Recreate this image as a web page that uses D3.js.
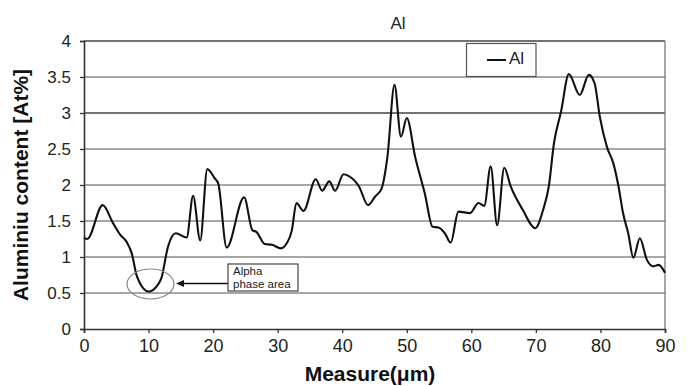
<!DOCTYPE html>
<html><head><meta charset="utf-8">
<script src="https://cdn.jsdelivr.net/npm/d3@7"></script>
<style>
html,body{margin:0;padding:0;background:#fff;}
svg{display:block;font-family:"Liberation Sans",Arial,sans-serif;}
</style></head>
<body><svg id="c" width="691" height="386"></svg>
<script>
const measure = [0,0.5,2.9,4.5,5.6,6.6,7.4,8.2,10,11.4,12,13,14.2,15.9,16.9,18,19.1,20.2,20.8,22.1,24.8,26.1,26.7,28,29.1,30.5,31.4,32.2,32.9,34,35.9,36.9,38,38.9,40.2,40.9,42.6,44,45.1,46.1,47,48.1,49.1,50,51.3,52.8,54,54.9,55.9,56.8,58,59.8,61.1,62,63,64,65.1,66.1,68,69.9,71.1,72,72.8,73.9,75.1,76.8,78.2,79.1,79.9,81,82,82.8,83.5,84.3,85.1,86.1,87.2,88.2,89,90];
const alContent = [1.27,1.25,1.72,1.47,1.31,1.21,1.05,0.73,0.52,0.61,0.71,1.14,1.33,1.27,1.85,1.23,2.22,2.1,2.02,1.13,1.83,1.37,1.35,1.18,1.17,1.12,1.19,1.37,1.75,1.64,2.08,1.92,2.05,1.92,2.15,2.13,1.98,1.72,1.84,1.95,2.39,3.39,2.67,2.93,2.39,1.88,1.42,1.41,1.33,1.2,1.63,1.61,1.75,1.71,2.26,1.44,2.24,1.98,1.65,1.4,1.65,1.98,2.58,3.02,3.54,3.25,3.53,3.41,2.95,2.53,2.3,1.98,1.61,1.33,0.99,1.26,0.96,0.87,0.89,0.78];
const xTicks = [0,10,20,30,40,50,60,70,80,90];
const yTicks = [0,0.5,1,1.5,2,2.5,3,3.5,4];
const yTickLabels = ["0","0.5","1","1.5","2","2.5","3","3.5","4"];
const seriesName = "Al";
const chartTitle = "Al";
const xTitle = "Measure(\u03bcm)";
const yTitle = "Aluminiu content [At%]";
const noteLines = ["Alpha","phase area"];

const svg = d3.select("#c");
const L = 84, R = 665, T = 41, B = 329;
const x = d3.scaleLinear().domain([0,90]).range([L,R]);
const y = d3.scaleLinear().domain([0,4]).range([B,T]);

// gridlines
svg.append("g").selectAll("line").data(yTicks.filter(d=>d>0)).join("line")
  .attr("x1",L).attr("x2",R).attr("y1",d=>y(d)).attr("y2",d=>y(d))
  .attr("stroke",d=>(d===3||d===4)?"#444":"#8a8a8a").attr("stroke-width",d=>(d===4)?1.6:1.3);
// right border
svg.append("line").attr("x1",R).attr("x2",R).attr("y1",T).attr("y2",B).attr("stroke","#777").attr("stroke-width",1.3);

// axes
const yAxis = d3.axisLeft(y).tickValues(yTicks).tickFormat((d,i)=>yTickLabels[i]).tickSize(4).tickPadding(9);
const gy = svg.append("g").attr("transform",`translate(${L},0)`).call(yAxis);
gy.select(".domain").attr("stroke","#333").attr("stroke-width",1.6);
gy.selectAll(".tick line").attr("stroke","#333").attr("stroke-width",1.3);
gy.selectAll(".tick text").attr("font-size",17).attr("fill","#222").attr("font-family","Liberation Sans, Arial, sans-serif");

const xAxis = d3.axisBottom(x).tickValues(xTicks).tickSize(4).tickPadding(6);
const gx = svg.append("g").attr("transform",`translate(0,${B})`).call(xAxis);
gx.select(".domain").attr("stroke","#333").attr("stroke-width",1.6);
gx.selectAll(".tick line").attr("stroke","#333").attr("stroke-width",1.3);
gx.selectAll(".tick text").attr("font-size",18).attr("fill","#222").attr("font-family","Liberation Sans, Arial, sans-serif");

// line
const data = measure.map((m,i)=>[m,alContent[i]]);
svg.append("path").datum(data)
  .attr("fill","none").attr("stroke","#111").attr("stroke-width",2.1).attr("stroke-linejoin","round")
  .attr("d",d3.line().x(d=>x(d[0])).y(d=>y(d[1])).curve(d3.curveMonotoneX));

// titles
svg.append("text").attr("x",398).attr("y",29).attr("text-anchor","middle").attr("font-size",17).attr("fill","#222").text(chartTitle);
svg.append("text").attr("x",370).attr("y",381).attr("text-anchor","middle").attr("font-size",21).attr("font-weight","bold").attr("fill","#111").text(xTitle);
svg.append("text").attr("transform","translate(28,185) rotate(-90)").attr("text-anchor","middle").attr("font-size",21).attr("font-weight","bold").attr("fill","#111").text(yTitle);

// legend
svg.append("rect").attr("x",466.5).attr("y",43.5).attr("width",69.5).attr("height",33).attr("fill","#fff").attr("stroke","#555").attr("stroke-width",1.2);
svg.append("line").attr("x1",487).attr("x2",506).attr("y1",60).attr("y2",60).attr("stroke","#111").attr("stroke-width",2);
svg.append("text").attr("x",509).attr("y",64).attr("font-size",17).attr("fill","#222").text(seriesName);

// annotation
svg.append("ellipse").attr("cx",x(10.3)).attr("cy",284).attr("rx",23.5).attr("ry",15).attr("fill","none").attr("stroke","#888").attr("stroke-width",1.2);
svg.append("line").attr("x1",182).attr("x2",228).attr("y1",283.5).attr("y2",283.5).attr("stroke","#111").attr("stroke-width",1.3);
svg.append("path").attr("d","M176,283.5 L184,280 L184,287 Z").attr("fill","#111");
svg.append("rect").attr("x",228).attr("y",264).attr("width",70).attr("height",27).attr("fill","#fff").attr("stroke","#333").attr("stroke-width",1.1);
svg.append("text").attr("x",233).attr("y",275).attr("font-size",11.5).attr("fill","#222").text(noteLines[0]);
svg.append("text").attr("x",233).attr("y",287.5).attr("font-size",11.5).attr("fill","#222").text(noteLines[1]);
</script></body></html>
